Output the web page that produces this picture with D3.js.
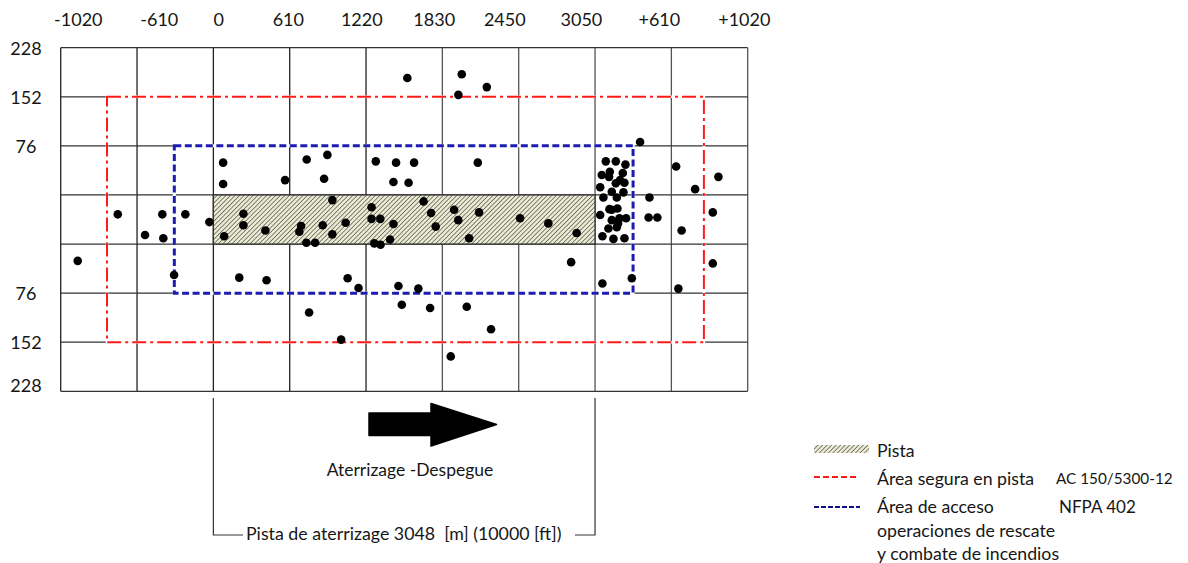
<!DOCTYPE html>
<html>
<head>
<meta charset="utf-8">
<script src="https://cdn.jsdelivr.net/npm/d3@7"></script>
<style>
  html, body { margin: 0; padding: 0; background: #fff; }
  svg { display: block; }
  text { font-family: Lato, "Open Sans", sans-serif; fill: #161616; }
</style>
</head>
<body>
<svg id="chart" width="1188" height="563"></svg>
<script>
// ---------- data ----------
const xTickLabels = ["-1020", "-610", "0", "610", "1220", "1830", "2450", "3050", "+610", "+1020"];
const xTickPos = [-1079, -432, 42, 599, 1186, 1765, 2329, 2941, 3564, 4243];
const yTickLabels = ["228", "152", "76", "76", "152", "228"];
const yTickPos = [266, 190, 114, -114, -190, -256];
const gridX = [-1220, -610, 0, 610, 1220, 1830, 2440, 3050, 3660, 4270];
const gridY = [266, 190, 114, 38, -38, -114, -190, -266];
const runwayX = [0, 3050];
const runwayY = [-38, 38];
const safetyAreaX = [-850, 3920];
const safetyAreaY = [-190, 190];
const accessAreaX = [-312, 3354];
const accessAreaY = [-114, 114];

// accident locations (m along runway, m from centreline)
const accidentX = [
  -1084, -764, -408, -224, -546, -400, -32, -314,
  78, 78, 573, 746, 911, 885, 1298, 1460, 1439, 1604, 1560, 2113,
  1550, 1985, 1958, 2185,
  240, 240, 86, 416, 951, 701, 687, 874, 951, 743, 813, 1057, 1264, 1264, 1334, 1439, 1412, 1286, 1336,
  1680, 1740, 1924, 1957, 1777, 2123, 2044, 2451, 2677, 2903,
  207, 425, 1073, 1160, 1479, 1638, 2859, 765, 1021, 1506, 1732, 2025, 2219, 1897,
  3109, 3344, 3410, 3485, 3478, 3548, 3742, 3698, 3850, 4036, 3991, 3991, 3716,
  3136, 3216, 3293, 3104, 3162, 3272, 3250, 3216, 3285, 3091, 3184, 3277, 3117, 3224,
  3165, 3229, 3091, 3184, 3245, 3298, 3184, 3157, 3224, 3109, 3197, 3285, 3168, 3234
];
const accidentY = [
  -64, 8, 8, 8, -24, -29, -4, -86,
  88, 55, 61, 93, 100, 63, 90, 88, 58, 88, 57, 88,
  219, 225, 193, 205,
  9, -9, -26, -17, 30, -10, -19, -9, -23, -36, -36, -5, 19, 1, 1, -7, -31, -37, -39,
  28, 10, 15, -1, -11, 11, -29, 2, -6, -21,
  -90, -94, -91, -106, -103, -107, -66, -144, -186, -132, -137, -135, -170, -212,
  -99, -91, 120, 34, 3, 3, -17, 82, 47, 66, 11, -68, -107,
  90, 90, 85, 69, 66, 72, 61, 56, 57, 50, 43, 42, 34, 34,
  16, 17, 7, 15, 2, 2, -1, -14, -12, -26, -30, -29, 74, -6
];

const legendLabels = ["Pista", "Área segura en pista", "Área de acceso"];
const legendNotes = ["", "AC 150/5300-12", "NFPA 402"];
const legendExtra = ["operaciones de rescate", "y combate de incendios"];
const arrowLabel = "Aterrizage -Despegue";
const dimensionLabel = "Pista de aterrizage 3048  [m] (10000 [ft])";

// ---------- drawing ----------
const svg = d3.select("#chart");
const x = d3.scaleLinear().domain([-1220, 4270]).range([60.7, 747.7]);
const y = d3.scaleLinear().domain([-266, 266]).range([391.3, 47.7]);

const defs = svg.append("defs");
const pat = defs.append("pattern")
  .attr("id", "hatch").attr("patternUnits", "userSpaceOnUse")
  .attr("width", 3.2).attr("height", 3.2)
  .attr("patternTransform", "rotate(45)");
pat.append("rect").attr("width", 3.2).attr("height", 3.2).attr("fill", "#ebebd3");
pat.append("line").attr("x1", 0).attr("y1", 0).attr("x2", 0).attr("y2", 3.2)
  .attr("stroke", "#2a2a2a").attr("stroke-width", 1.1);

// grid
const grid = svg.append("g");
grid.selectAll("line.v").data(gridX).join("line").attr("class", "v")
  .attr("x1", d => x(d)).attr("x2", d => x(d))
  .attr("y1", y(266)).attr("y2", y(-266))
  .attr("stroke", (d, i) => i >= 5 ? "#555" : "#222").attr("stroke-width", 1.3);
grid.selectAll("line.h").data(gridY).join("line").attr("class", "h")
  .attr("x1", x(-1220)).attr("x2", x(4270))
  .attr("y1", d => y(d)).attr("y2", d => y(d))
  .attr("stroke", "#333").attr("stroke-width", 1.3);

// runway
svg.append("rect")
  .attr("x", x(runwayX[0])).attr("y", y(runwayY[1]))
  .attr("width", x(runwayX[1]) - x(runwayX[0]))
  .attr("height", y(runwayY[0]) - y(runwayY[1]))
  .attr("fill", "url(#hatch)").attr("stroke", "#333").attr("stroke-width", 1.3);

function boxPath(xs, ys) {
  return `M${x(xs[0])},${y(ys[1])}H${x(xs[1])}V${y(ys[0])}H${x(xs[0])}Z`;
}
// white underlays hide grid lines below the area outlines
svg.append("path").attr("d", boxPath(safetyAreaX, safetyAreaY))
  .attr("fill", "none").attr("stroke", "#fff").attr("stroke-width", 2.5);
svg.append("path").attr("d", boxPath(safetyAreaX, safetyAreaY))
  .attr("fill", "none").attr("stroke", "#ff1a1a").attr("stroke-width", 2)
  .attr("stroke-dasharray", "14,4,3,4");
svg.append("path").attr("d", boxPath(accessAreaX, accessAreaY))
  .attr("fill", "none").attr("stroke", "#fff").attr("stroke-width", 3);
svg.append("path").attr("d", boxPath(accessAreaX, accessAreaY))
  .attr("fill", "none").attr("stroke", "#1c1cb0").attr("stroke-width", 3)
  .attr("stroke-dasharray", "7,3.5");

// accidents
svg.append("g").selectAll("circle").data(d3.range(accidentX.length)).join("circle")
  .attr("cx", i => x(accidentX[i])).attr("cy", i => y(accidentY[i]))
  .attr("r", 4.3).attr("fill", "#000");

// axis labels
svg.append("g").selectAll("text").data(xTickLabels).join("text")
  .attr("x", (d, i) => x(xTickPos[i])).attr("y", 19)
  .attr("text-anchor", "middle").attr("dominant-baseline", "central")
  .attr("font-size", 18).text(d => d);
svg.append("g").selectAll("text").data(yTickLabels).join("text")
  .attr("x", 26).attr("y", (d, i) => y(yTickPos[i]))
  .attr("text-anchor", "middle").attr("dominant-baseline", "central")
  .attr("font-size", 18).text(d => d);

// direction arrow
svg.append("path")
  .attr("d", "M369,413 L431,413 L431,403.5 L496.5,424.5 L431,446 L431,435.5 L369,435.5 Z")
  .attr("fill", "#000").attr("stroke", "#000").attr("stroke-width", 1.5)
  .attr("stroke-linejoin", "round");
svg.append("text").attr("x", 410).attr("y", 469.5)
  .attr("text-anchor", "middle").attr("dominant-baseline", "central")
  .attr("font-size", 17.5).text(arrowLabel);

// dimension bracket
const dim = svg.append("g").attr("stroke", "#333").attr("stroke-width", 1.2).attr("fill", "none");
dim.append("path").attr("d", `M${x(runwayX[0])},398V535H243`);
dim.append("path").attr("d", `M575,535H${x(runwayX[1])}V398`);
svg.append("text").attr("x", 246).attr("y", 533)
  .attr("dominant-baseline", "central").attr("font-size", 17.8)
  .style("white-space", "pre").text(dimensionLabel);

// legend
svg.append("rect").attr("x", 814).attr("y", 445).attr("width", 55).attr("height", 8)
  .attr("fill", "url(#hatch)");
svg.append("line").attr("x1", 814).attr("x2", 858).attr("y1", 477).attr("y2", 477)
  .attr("stroke", "#ff1a1a").attr("stroke-width", 2).attr("stroke-dasharray", "6,3");
svg.append("line").attr("x1", 814).attr("x2", 860).attr("y1", 507).attr("y2", 507)
  .attr("stroke", "#10108a").attr("stroke-width", 2.2).attr("stroke-dasharray", "5,2");
const legY = [450, 478, 506];
svg.append("g").selectAll("text").data(legendLabels).join("text")
  .attr("x", 877).attr("y", (d, i) => legY[i]).attr("dominant-baseline", "central")
  .attr("font-size", 17.7).text(d => d);
svg.append("g").selectAll("text").data(legendNotes).join("text")
  .attr("x", (d, i) => i === 1 ? 1056 : 1059).attr("y", (d, i) => legY[i])
  .attr("dominant-baseline", "central")
  .attr("font-size", (d, i) => i === 1 ? 15.3 : 17).text(d => d);
svg.append("g").selectAll("text").data(legendExtra).join("text")
  .attr("x", 877).attr("y", (d, i) => [530, 553][i]).attr("dominant-baseline", "central")
  .attr("font-size", 17.7).text(d => d);
</script>
</body>
</html>
